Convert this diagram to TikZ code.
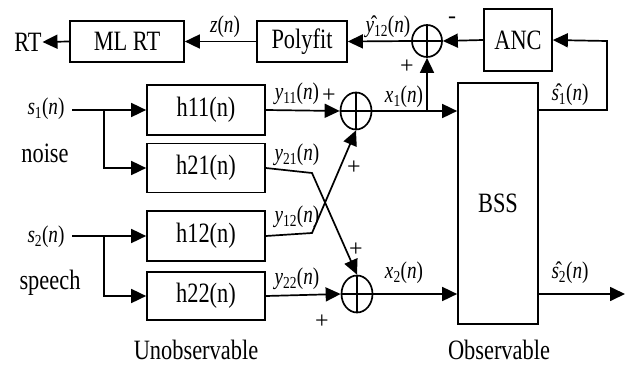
\documentclass[tikz,border=0pt]{standalone}
\usepackage{fontspec}
\usepackage{graphicx}
\setmainfont{Liberation Serif}
\usetikzlibrary{arrows.meta,shapes.geometric}
\newcommand{\nar}[1]{\scalebox{0.8}[1]{#1}}
\newcommand{\lbl}[2]{\nar{\textit{#1}\textsubscript{#2}(\textit{n})}}
\newcommand{\hlbl}[2]{\nar{\^{\textit{#1}}\textsubscript{#2}(\textit{n})}}
\begin{document}
\begin{tikzpicture}[x=1pt,y=-1pt,
  line width=1.7pt,
  >={Triangle[length=15pt,width=14pt]},
  box/.style={draw,rectangle,inner sep=0pt,font=\fontsize{28}{30}\selectfont},
  sumnode/.style={draw,ellipse,inner sep=0pt,minimum width=31pt,minimum height=37pt,
    path picture={\draw[line width=1.7pt] (path picture bounding box.north) -- (path picture bounding box.south)
      (path picture bounding box.west) -- (path picture bounding box.east);}},
  txt/.style={inner sep=0pt,font=\fontsize{28}{30}\selectfont},
  lab/.style={inner sep=0pt,font=\fontsize{24}{26}\selectfont},
  sgn/.style={inner sep=0pt,font=\fontsize{24}{26}\selectfont}]
\useasboundingbox (0,0) rectangle (629,367);
% boxes
\node[box,minimum width=114pt,minimum height=41pt] (mlrt) at (127,41.5) {\nar{ML RT}};
\node[box,minimum width=90pt,minimum height=41pt] (poly) at (302,41.5) {\nar{Polyfit}};
\node[box,minimum width=68pt,minimum height=62pt] (anc) at (518,40) {\nar{ANC}};
\node[box,minimum width=118pt,minimum height=50pt] (h11) at (206,110) {\nar{h11(n)}};
\node[box,minimum width=118pt,minimum height=49pt] (h21) at (206,168) {\nar{h21(n)}};
\node[box,minimum width=118pt,minimum height=50pt] (h12) at (206,236) {\nar{h12(n)}};
\node[box,minimum width=118pt,minimum height=48pt] (h22) at (206,296) {\nar{h22(n)}};
\node[box,minimum width=80pt,minimum height=241pt] (bss) at (498,203.5) {\nar{BSS}};
% summing junctions
\node[sumnode] (sum1) at (356,111) {};
\node[sumnode] (sum2) at (357,294) {};
\node[sumnode,minimum width=30pt,minimum height=32pt] (sumt) at (427,41) {};
% texts
\node[txt] (rt) at (28,42) {\nar{RT}};
\node[lab] (s1) at (46,109) {\lbl{s}{1}};
\node[txt] (noise) at (45,153) {\nar{noise}};
\node[lab] (s2) at (46,237) {\lbl{s}{2}};
\node[txt] (speech) at (50,283) {\nar{speech}};
\node[txt] (unobs) at (196,350) {\nar{Unobservable}};
\node[txt] (obs) at (499,350) {\nar{Observable}};
% connector labels
\node[lab] (zl) at (225,27) {\nar{\textit{z}(\textit{n})}};
\node[lab] (y12h) at (388,27) {\hlbl{y}{12}};
\node[sgn] (minus) at (452,20) {-};
\node[sgn] (pt) at (407,67) {+};
\node[lab] (y11) at (297,94) {\lbl{y}{11}};
\node[sgn] (p1) at (329,96) {+};
\node[lab] (x1) at (404,97) {\lbl{x}{1}};
\node[lab] (s1h) at (570,95) {\hlbl{s}{1}};
\node[lab] (y21) at (297,155) {\lbl{y}{21}};
\node[sgn] (p2) at (354,168) {+};
\node[lab] (y12) at (297,217) {\lbl{y}{12}};
\node[sgn] (p3) at (356,250) {+};
\node[lab] (y22) at (297,279) {\lbl{y}{22}};
\node[lab] (x2) at (404,273) {\lbl{x}{2}};
\node[lab] (s2h) at (570,273) {\hlbl{s}{2}};
\node[sgn] (p4) at (322,322) {+};
% coordinates
\coordinate (s1in) at (72,110);
\coordinate (b1) at (104,110);
\coordinate (s2in) at (72,236);
\coordinate (b2) at (104,236);
\coordinate (k21) at (312,173);
\coordinate (k12) at (312,233);
\coordinate (x1tap) at (427,111);
\coordinate (fbr) at (607,110);
\coordinate (fbt) at (607,41);
\coordinate (out2) at (625,294);
% connectors
\draw[->] (s1in) -- (h11.west);
\draw[->] (b1) |- (h21.west);
\draw[->] (s2in) -- (h12.west);
\draw[->] (b2) |- (h22.west);
\draw[->] (h11.east) -- (sum1.west);
\draw[->] (h21.east) -- (k21) -- (sum2.north);
\draw[->] (h12.east) -- (k12) -- (sum1.south);
\draw[->] (h22.east) -- (sum2.west);
\draw[->] (sum1.east) -- (sum1.east -| bss.west);
\draw[->] (sum2.east) -- (sum2.east -| bss.west);
\draw[->] (x1tap) -- (sumt.south);
\draw[->] (fbr -| bss.east) -- (fbr) -- (fbt) -- (anc.east);
\draw[->] (anc.west) -- (sumt.east);
\draw[->] (sumt.west) -- (poly.east);
\draw[->] (poly.west) -- (mlrt.east);
\draw[->] (mlrt.west) -- (rt.east);
\draw[->] (out2 -| bss.east) -- (out2);
\end{tikzpicture}
\end{document}
